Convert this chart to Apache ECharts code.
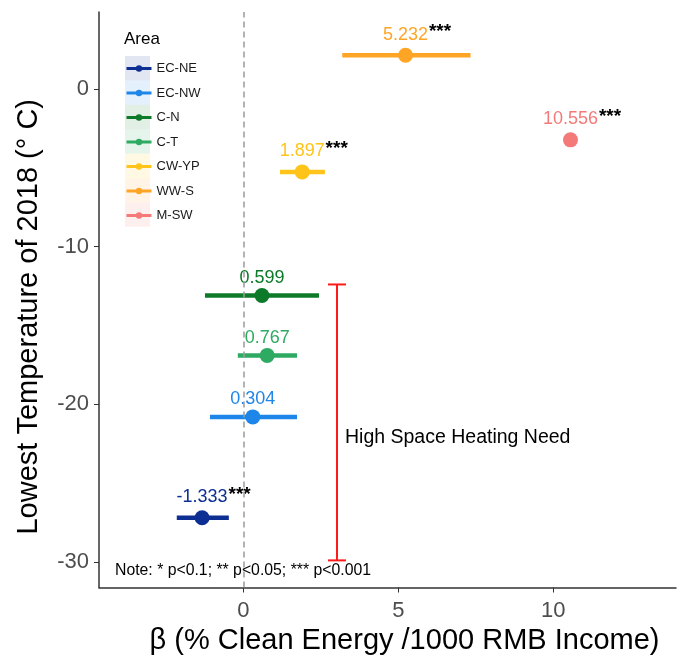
<!DOCTYPE html>
<html>
<head>
<meta charset="utf-8">
<script src="https://cdn.jsdelivr.net/npm/echarts@6/dist/echarts.min.js"></script>
<style>html,body{margin:0;padding:0;background:#fff}#c{width:678px;height:663px}</style>
</head>
<body>
<div id="c"></div>
<script>
var areas = ['EC-NE','EC-NW','C-N','C-T','CW-YP','WW-S','M-SW'];
var beta = [-1.333, 0.304, 0.599, 0.767, 1.897, 5.232, 10.556];
var lowestTemp = [-27.2, -20.8, -13.1, -16.9, -5.26, 2.14, -3.23];
var ciLow = [-2.15, -1.08, -1.24, -0.18, 1.18, 3.19, 10.556];
var ciHigh = [-0.47, 1.73, 2.44, 1.73, 2.63, 7.33, 10.556];
var signif = ['***', '', '', '', '***', '***', '***'];
var colors = ['#0d2f94', '#1e86e8', '#0c7a28', '#2eaa62', '#ffc41a', '#ffa526', '#f47a7a'];
var xTicks = [0, 5, 10];
var yTicks = [0, -10, -20, -30];
var bracket = [3.02, -12.4, -29.9];
var bracketLabel = 'High Space Heating Need';
var noteText = 'Note: * p<0.1; ** p<0.05; *** p<0.001';

var chart = echarts.init(document.getElementById('c'), null, {renderer: 'canvas'});
var FONT = 'Liberation Sans, Arial, sans-serif';

var series = [];
areas.forEach(function (a, i) {
  series.push({
    type: 'line', name: a, color: colors[i],
    data: [[ciLow[i], lowestTemp[i]], [ciHigh[i], lowestTemp[i]]],
    symbol: 'circle', symbolSize: 7, showSymbol: false,
    lineStyle: {width: 4.5, color: colors[i]},
    itemStyle: {color: colors[i]},
    silent: true, z: 3
  });
  series.push({
    type: 'scatter', name: a + '_pt',
    data: [[beta[i], lowestTemp[i]]],
    symbol: 'circle', symbolSize: 15,
    itemStyle: {color: colors[i], opacity: 1},
    z: 4,
    label: {
      show: true, position: 'top', distance: 1,
      formatter: function () {
        var v = beta[i].toFixed(3);
        return signif[i] ? '{pad|}{v|' + v + '}{s|' + signif[i] + '}' : '{v|' + v + '}';
      },
      rich: {
        pad: {width: 24},
        v: {color: colors[i], fontSize: 18, fontFamily: FONT},
        s: {color: '#000', fontSize: 19, fontWeight: 'bold', fontFamily: FONT, width: 24, padding: [0, 0, 5, 0]}
      }
    }
  });
});

series.push({
  type: 'custom', name: 'bracket', silent: true, z: 2,
  data: [bracket],
  renderItem: function (params, api) {
    var top = api.coord([api.value(0), api.value(1)]);
    var bot = api.coord([api.value(0), api.value(2)]);
    var cap = 9;
    var st = {stroke: '#ff1a1a', lineWidth: 2};
    var mid = (top[1] + bot[1]) / 2;
    return {type: 'group', children: [
      {type: 'line', shape: {x1: top[0], y1: top[1], x2: bot[0], y2: bot[1]}, style: st},
      {type: 'line', shape: {x1: top[0] - cap, y1: top[1], x2: top[0] + cap, y2: top[1]}, style: st},
      {type: 'line', shape: {x1: bot[0] - cap, y1: bot[1], x2: bot[0] + cap, y2: bot[1]}, style: st},
      {type: 'text', style: {x: top[0] + 8, y: mid + 15, text: bracketLabel, fill: '#000', font: '19.5px ' + FONT, verticalAlign: 'middle', align: 'left'}}
    ]};
  },
  markLine: {
    silent: true, symbol: 'none', label: {show: false},
    lineStyle: {color: '#9a9a9a', type: [6, 4], width: 1.5},
    data: [{xAxis: 0}]
  }
});

var legendRects = areas.map(function (a, i) {
  return {
    type: 'rect', z: 0,
    shape: {x: 125, y: 56 + i * 24.4, width: 25, height: 24.4},
    style: {fill: colors[i], opacity: 0.12}
  };
});

chart.setOption({
  animation: false,
  backgroundColor: '#fff',
  grid: {left: 99, right: 2, top: 12, bottom: 75.5, containLabel: false},
  xAxis: {
    type: 'value', min: -4.66, max: 13.96,
    name: 'β (% Clean Energy /1000 RMB Income)', nameLocation: 'middle', nameGap: 39,
    nameTextStyle: {fontSize: 29, color: '#000', fontFamily: FONT, padding: [0, 0, 0, 34]},
    splitLine: {show: false},
    axisLine: {show: true, onZero: false, lineStyle: {color: '#333', width: 1.5}},
    axisTick: {show: true, length: 5, customValues: xTicks, lineStyle: {color: '#333'}},
    axisLabel: {customValues: xTicks, fontSize: 22, color: '#4d4d4d', margin: 12, fontFamily: FONT}
  },
  yAxis: {
    type: 'value', min: -31.62, max: 4.88,
    name: 'Lowest Temperature of 2018 (° C)', nameLocation: 'middle', nameGap: 56, nameRotate: 90,
    nameTextStyle: {fontSize: 29, color: '#000', fontFamily: FONT, padding: [0, 34, 0, 0]},
    splitLine: {show: false},
    axisLine: {show: true, onZero: false, lineStyle: {color: '#333', width: 1.5}},
    axisTick: {show: true, length: 5, customValues: yTicks, lineStyle: {color: '#333'}},
    axisLabel: {customValues: yTicks, fontSize: 22, color: '#4d4d4d', margin: 10, fontFamily: FONT}
  },
  legend: {
    data: areas, orient: 'vertical', left: 125, top: 62, padding: 0,
    itemWidth: 25, itemHeight: 8, itemGap: 11.5,
    lineStyle: {width: 3},
    textStyle: {fontSize: 13, color: '#1a1a1a', fontFamily: FONT},
    selectedMode: false
  },
  graphic: legendRects.concat([
    {type: 'text', left: 124, top: 31, z: 5, style: {text: 'Area', font: '17px ' + FONT, fill: '#000'}},
    {type: 'text', left: 115, top: 563, z: 5, style: {text: noteText, font: '15.8px ' + FONT, fill: '#000'}}
  ]),
  series: series
});
</script>
</body>
</html>
